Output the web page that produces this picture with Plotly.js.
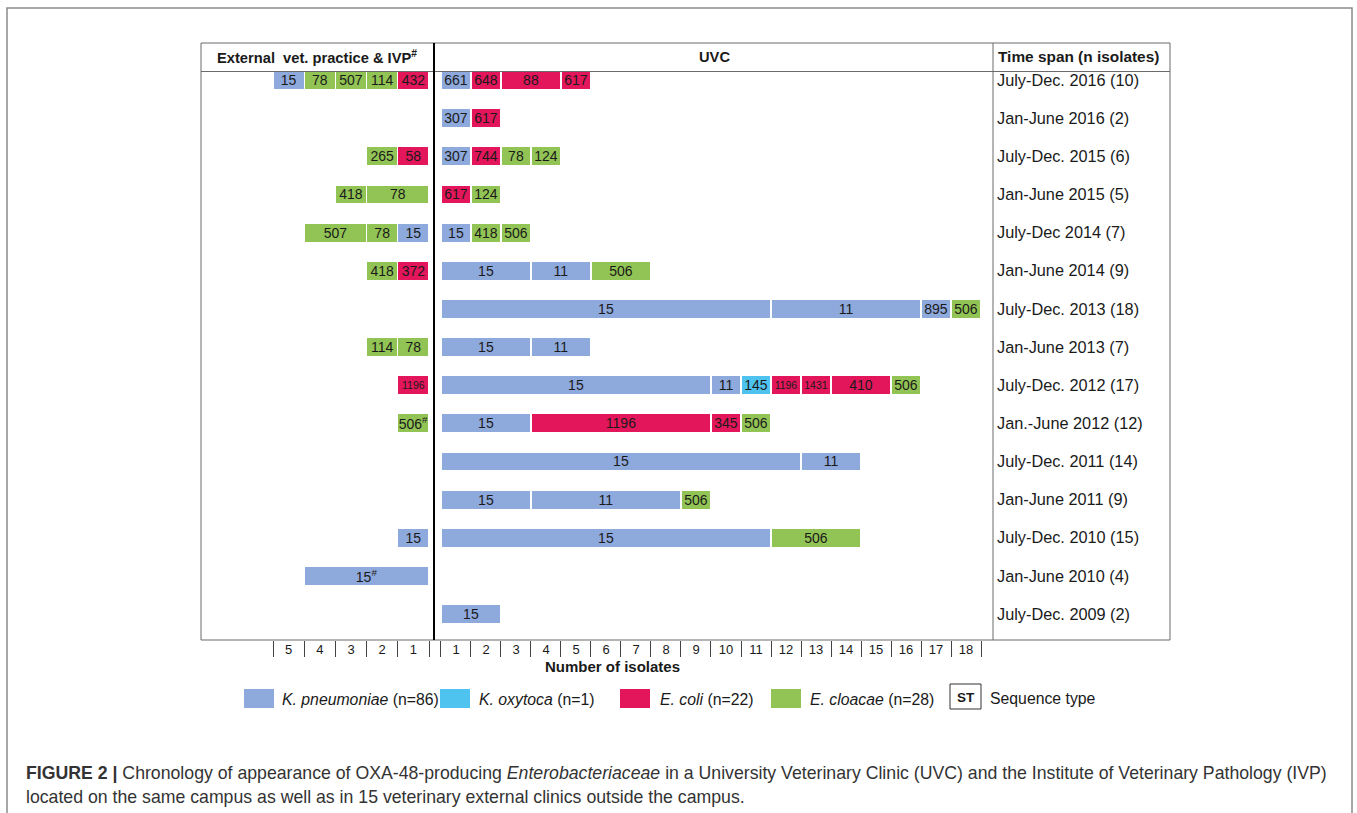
<!DOCTYPE html>
<html>
<head>
<meta charset="utf-8">
<script src="https://cdn.plot.ly/plotly-3.0.1.min.js"></script>
<style>
html,body{margin:0;padding:0;background:#fff;}
#chart{width:1357px;height:813px;}
</style>
</head>
<body>
<div id="chart"></div>
<script>
// ---------- DATA ----------
const periods = ['July-Dec. 2016 (10)', 'Jan-June 2016 (2)', 'July-Dec. 2015 (6)', 'Jan-June 2015 (5)',
  'July-Dec 2014 (7)', 'Jan-June 2014 (9)', 'July-Dec. 2013 (18)', 'Jan-June 2013 (7)',
  'July-Dec. 2012 (17)', 'Jan.-June 2012 (12)', 'July-Dec. 2011 (14)', 'Jan-June 2011 (9)',
  'July-Dec. 2010 (15)', 'Jan-June 2010 (4)', 'July-Dec. 2009 (2)'];

const speciesKeys   = ['kp', 'ko', 'ec', 'ecl'];
const speciesNames  = ['K. pneumoniae', 'K. oxytoca', 'E. coli', 'E. cloacae'];
const speciesTotals = [86, 1, 22, 28];
const speciesColors = ['#8EA9DB', '#4FC3F0', '#E3165B', '#92C455'];

// UVC (right panel): sequence types, isolate counts, species per segment (left to right)
const uvcST = [
  ['661','648','88','617'], ['307','617'], ['307','744','78','124'], ['617','124'],
  ['15','418','506'], ['15','11','506'], ['15','11','895','506'], ['15','11'],
  ['15','11','145','1196','1431','410','506'], ['15','1196','345','506'], ['15','11'],
  ['15','11','506'], ['15','506'], [], ['15']];
const uvcN = [
  [1,1,2,1], [1,1], [1,1,1,1], [1,1],
  [1,1,1], [3,2,2], [11,5,1,1], [3,2],
  [9,1,1,1,1,2,1], [3,6,1,1], [12,2],
  [3,5,1], [11,3], [], [2]];
const uvcSp = [
  ['kp','ec','ec','ec'], ['kp','ec'], ['kp','ec','ecl','ecl'], ['ec','ecl'],
  ['kp','ecl','ecl'], ['kp','kp','ecl'], ['kp','kp','kp','ecl'], ['kp','kp'],
  ['kp','kp','ko','ec','ec','ec','ecl'], ['kp','ec','ec','ecl'], ['kp','kp'],
  ['kp','kp','ecl'], ['kp','ecl'], [], ['kp']];

// External vet. practice & IVP (left panel): segments from the centre line outward
const extST = [
  ['432','114','507','78','15'], [], ['58','265'], ['78','418'],
  ['15','78','507'], ['372','418'], [], ['78','114'],
  ['1196'], ['506<sup>#</sup>'], [], [],
  ['15'], ['15<sup>#</sup>'], []];
const extN = [
  [1,1,1,1,1], [], [1,1], [2,1],
  [1,1,2], [1,1], [], [1,1],
  [1], [1], [], [],
  [1], [4], []];
const extSp = [
  ['ec','ecl','ecl','ecl','kp'], [], ['ec','ecl'], ['ecl','ecl'],
  ['kp','ecl','ecl'], ['ec','ecl'], [], ['ecl','ecl'],
  ['ec'], ['ecl'], [], [],
  ['kp'], ['kp'], []];

const extTicks = ['1','2','3','4','5'];
const uvcTicks = ['1','2','3','4','5','6','7','8','9','10','11','12','13','14','15','16','17','18'];

// ---------- BUILD ----------
const W = 1357, H = 813;
const FONT = 'Liberation Sans, Arial, Helvetica, sans-serif';
const px = v => v / W;
const py = v => 1 - v / H;
const colorOf = k => speciesColors[speciesKeys.indexOf(k)];

function buildTraces(stArr, nArr, spArr, xa) {
  const out = [];
  const maxK = Math.max(...nArr.map(r => r.length));
  for (let k = 0; k < maxK; k++) {
    const rows = periods.map((p, i) => i).filter(i => k < nArr[i].length);
    const texts = rows.map(i => stArr[i][k]);
    out.push({
      type: 'bar', orientation: 'h',
      y: rows.map(i => periods[i]),
      x: rows.map(i => nArr[i][k]),
      text: texts,
      textposition: 'inside', insidetextanchor: 'middle', textangle: 0,
      constraintext: 'none',
      textfont: {family: FONT, color: '#1a1a1a',
        size: rows.map(i => (stArr[i][k].length >= 4 && nArr[i][k] < 2 && stArr[i][k].indexOf('<') < 0) ? 10.5 : 14)},
      marker: {color: rows.map(i => colorOf(spArr[i][k])),
               line: {color: '#ffffff', width: 1.2}},
      width: 0.5,
      xaxis: xa, yaxis: 'y',
      hoverinfo: 'skip', showlegend: false
    });
  }
  return out;
}

const traces = [].concat(
  buildTraces(extST, extN, extSp, 'x'),
  buildTraces(uvcST, uvcN, uvcSp, 'x2')
);

const shapes = [];
const annotations = [];
function line(x0, y0, x1, y1, color, width) {
  shapes.push({type: 'line', xref: 'paper', yref: 'paper', x0: px(x0), y0: py(y0), x1: px(x1), y1: py(y1),
    line: {color: color, width: width}});
}
function rect(x0, y0, x1, y1, fill, lc, lw) {
  shapes.push({type: 'rect', xref: 'paper', yref: 'paper', x0: px(x0), y0: py(y0), x1: px(x1), y1: py(y1),
    fillcolor: fill, line: {color: lc, width: lw}});
}
function text(t, x, y, xanchor, size, color) {
  annotations.push({text: t, xref: 'paper', yref: 'paper', x: px(x), y: py(y),
    xanchor: xanchor, yanchor: 'middle', showarrow: false,
    font: {family: FONT, size: size, color: color || '#1a1a1a'}});
}

// outer figure frame
rect(7, 8, 1352, 840, 'rgba(0,0,0,0)', '#8a8a8a', 1.5);
// table frame
rect(201, 43, 1170, 640, 'rgba(0,0,0,0)', '#6a6a6a', 1);
line(201, 71.5, 1170, 71.5, '#6a6a6a', 1);
line(993, 43, 993, 640, '#6a6a6a', 1);
line(434, 43, 434, 640, '#000000', 2);

// headers
text('<b>External  vet. practice &amp; IVP<sup>#</sup></b>', 317, 57, 'center', 14.7);
text('<b>UVC</b>', 714, 57, 'center', 14.7);
text('<b>Time span (n isolates)</b>', 996, 57, 'left', 15.4);
text('<b>Number of isolates</b>', 612, 666, 'center', 15);

// legend
const legX = [244, 440, 620, 771];
const legTextX = [280, 477, 658, 808];
speciesNames.forEach((n, i) => {
  rect(legX[i], 689, legX[i] + 30, 708, speciesColors[i], speciesColors[i], 0);
  text('<i>' + n + '</i> (n=' + speciesTotals[i] + ')', legTextX[i], 699, 'left', 15.8);
});
rect(950, 684, 981, 709, 'rgba(0,0,0,0)', '#333333', 1);
text('<b>ST</b>', 965.5, 697, 'center', 13.5);
text('Sequence type', 988, 698, 'left', 15.8);

// caption
text('<b>FIGURE 2 |</b> Chronology of appearance of OXA-48-producing <i>Enterobacteriaceae</i> in a University Veterinary Clinic (UVC) and the Institute of Veterinary Pathology (IVP)',
  24, 773, 'left', 17.7, '#333333');
text('located on the same campus as well as in 15 veterinary external clinics outside the campus.',
  24, 797, 'left', 17.7, '#333333');

const axisCommon = {
  showgrid: false, zeroline: false, showline: false, ticks: '', fixedrange: true,
  tickfont: {family: FONT, size: 13, color: '#1a1a1a'}
};

const layout = {
  width: W, height: H,
  margin: {l: 0, r: 0, t: 0, b: 0},
  paper_bgcolor: '#ffffff', plot_bgcolor: 'rgba(0,0,0,0)',
  barmode: 'stack', bargap: 0.5,
  showlegend: false,
  font: {family: FONT, color: '#1a1a1a'},
  xaxis: Object.assign({}, axisCommon, {
    domain: [px(201), px(434)], range: [7.31, -0.16], anchor: 'y',
    tickmode: 'array', tickvals: extTicks.map((t, i) => i + 0.5), ticktext: extTicks,
    minor: {tickmode: 'array', tickvals: [0, 1, 2, 3, 4, 5], ticks: 'outside', ticklen: 16, tickcolor: '#444', tickwidth: 1}
  }),
  xaxis2: Object.assign({}, axisCommon, {
    domain: [px(434), px(993)], range: [-0.233, 18.4], anchor: 'y',
    tickmode: 'array', tickvals: uvcTicks.map((t, i) => i + 0.5), ticktext: uvcTicks,
    minor: {tickmode: 'array', tickvals: uvcTicks.map((t, i) => i).concat([18]), ticks: 'outside', ticklen: 16, tickcolor: '#444', tickwidth: 1}
  }),
  yaxis: {
    type: 'category', categoryorder: 'array', categoryarray: periods,
    range: [14.68, -0.21], domain: [py(640), py(72)],
    anchor: 'x2', side: 'right', ticklabelstandoff: 3,
    showgrid: false, zeroline: false, showline: false, ticks: '', fixedrange: true,
    tickfont: {family: FONT, size: 16.3, color: '#1a1a1a'}
  },
  shapes: shapes,
  annotations: annotations
};

Plotly.newPlot('chart', traces, layout, {displayModeBar: false, staticPlot: true});
</script>
</body>
</html>
